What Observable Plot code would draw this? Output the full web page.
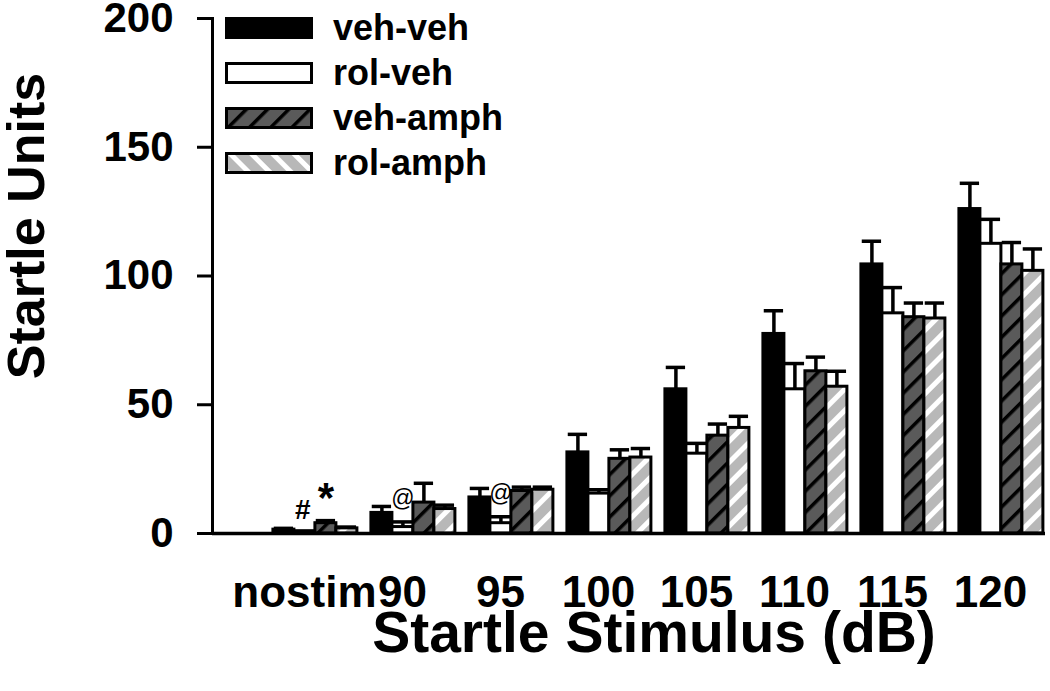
<!DOCTYPE html>
<html>
<head>
<meta charset="utf-8">
<script src="https://cdn.jsdelivr.net/npm/d3@7"></script>
<script src="https://cdn.jsdelivr.net/npm/@observablehq/plot@0.6"></script>
<style>
  html, body { margin: 0; padding: 0; background: #fff; }
  #wrap { position: relative; width: 1050px; height: 691px; font-family: "Liberation Sans", Arial, sans-serif; }
  #legend { position: absolute; left: 225px; top: 5px; }
  .row { display: flex; align-items: center; height: 45px; }
  .row span { font-size: 36px; font-weight: bold; margin-left: 20px; line-height: 1; }
</style>
</head>
<body>
<div id="wrap"><div id="legend"></div></div>
<script>
// ---- data ----
const groups = ["nostim", "90", "95", "100", "105", "110", "115", "120"];
const series = ["veh-veh", "rol-veh", "veh-amph", "rol-amph"];
const vehVeh      = [1.5, 8, 14, 31.5, 56, 77.5, 104.5, 126];
const vehVehErr   = [0.5, 2.5, 3.5, 7, 8.5, 9, 9, 10];
const rolVeh      = [0.5, 2.5, 4, 15.5, 31, 56, 85.5, 112.5];
const rolVehErr   = [0.5, 2, 2.5, 1.5, 4, 10, 10, 9.5];
const vehAmph     = [4, 12, 16.5, 29, 38, 63, 84, 104.5];
const vehAmphErr  = [1, 7.5, 1.5, 3.5, 4.5, 5.5, 5.5, 8.5];
const rolAmph     = [2, 9.5, 17, 29.5, 41, 57, 83.5, 102];
const rolAmphErr  = [0.5, 1.5, 1, 3.5, 4.5, 6, 6, 8.5];
const yTicks = [0, 50, 100, 150, 200];
const annotations = [
  {group: "nostim", series: "rol-veh", symbol: "#"},
  {group: "nostim", series: "veh-amph", symbol: "*"},
  {group: "90", series: "rol-veh", symbol: "@"},
  {group: "95", series: "rol-veh", symbol: "@"}
];

// ---- styling / layout ----
const means = [vehVeh, rolVeh, vehAmph, rolAmph];
const errs = [vehVehErr, rolVehErr, vehAmphErr, rolAmphErr];
const fills = ["#000", "#fff", "url(#hatchDark)", "url(#hatchLight)"];
const groupWidth = 0.857;          // fraction of a category step taken by the 4 bars
const barW = groupWidth / series.length;
const capHalf = barW * 0.46;

const rows = [];
series.forEach((s, k) => groups.forEach((g, i) => {
  const x1 = i - groupWidth / 2 + k * barW;
  rows.push({group: g, series: s, k, x1, x2: x1 + barW, xc: x1 + barW / 2,
             mean: means[k][i], err: errs[k][i], top: means[k][i] + errs[k][i]});
}));
const annRows = annotations.map(a => {
  const r = rows.find(d => d.group === a.group && d.series === a.series);
  return {...a, xc: r.xc, top: r.top};
});

function patternDefs(prefix, dir) {
  const ns = "http://www.w3.org/2000/svg";
  const defs = document.createElementNS(ns, "defs");
  const mk = (id, bg, fg, stripe, angle) => {
    const p = document.createElementNS(ns, "pattern");
    p.setAttribute("id", prefix + id);
    p.setAttribute("patternUnits", "userSpaceOnUse");
    p.setAttribute("width", 15); p.setAttribute("height", 15);
    p.setAttribute("patternTransform", `rotate(${angle})`);
    const r1 = document.createElementNS(ns, "rect");
    r1.setAttribute("width", 15); r1.setAttribute("height", 15); r1.setAttribute("fill", bg);
    const r2 = document.createElementNS(ns, "rect");
    r2.setAttribute("width", stripe); r2.setAttribute("height", 15); r2.setAttribute("fill", fg);
    p.append(r1, r2); defs.append(p);
  };
  mk("hatchDark", "#5a5a5a", "#000", 3.5, 45);
  mk("hatchLight", "#b8b8b8", "#fff", 5, 45 * dir);
  return defs;
}

const chart = Plot.plot({
  width: 1050, height: 691,
  marginLeft: 212, marginRight: 5, marginTop: 18, marginBottom: 158,
  style: {fontFamily: "'Liberation Sans', Arial, sans-serif", background: "#fff", color: "#000", overflow: "visible"},
  x: {type: "linear", domain: [-1.05, 7.45]},
  y: {domain: [0, 200]},
  marks: [
    () => { const g = document.createElementNS("http://www.w3.org/2000/svg", "g"); g.append(patternDefs("", 1)); return g; },
    ...series.map((s, k) => Plot.rectY(rows.filter(d => d.k === k), {
      x1: "x1", x2: "x2", y1: 0, y2: "mean", fill: fills[k], stroke: "#000", strokeWidth: 3
    })),
    Plot.ruleX(rows, {x: "xc", y1: "mean", y2: "top", stroke: "#000", strokeWidth: 3.5}),
    Plot.ruleY(rows, {y: "top", x1: d => d.xc - capHalf, x2: d => d.xc + capHalf, stroke: "#000", strokeWidth: 3.5}),
    Plot.ruleY([0], {stroke: "#000", strokeWidth: 3.5}),
    Plot.frame({anchor: "left", stroke: "#000", strokeWidth: 3}),
    Plot.axisY({ticks: yTicks, tickSize: 15, tickPadding: 24, fontSize: 42, fontWeight: "bold", strokeWidth: 3, label: null}),
    Plot.axisX({ticks: d3.range(groups.length), tickFormat: i => groups[i], tickSize: 0, tickPadding: 42,
                fontSize: 44, fontWeight: "bold", label: null, dx: -11}),
    Plot.text(annRows.filter(d => d.symbol === "#"), {x: "xc", y: "top", text: "symbol", lineAnchor: "bottom", dy: -12, dx: -2,
                fontSize: 28, fontWeight: "bold"}),
    Plot.text(annRows.filter(d => d.symbol === "*"), {x: "xc", y: "top", text: "symbol", lineAnchor: "bottom", dy: -9,
                fontSize: 42, fontWeight: "bold"}),
    Plot.text(annRows.filter(d => d.symbol === "@"), {x: "xc", y: "top", text: "symbol", lineAnchor: "bottom", dy: -16,
                fontSize: 23}),
    Plot.text(["Startle Units"], {frameAnchor: "left", textAnchor: "middle", lineAnchor: "middle", rotate: -90,
                dx: -185, dy: -50, fontSize: 52, fontWeight: "bold"}),
    Plot.text(["Startle Stimulus (dB)"], {frameAnchor: "bottom", textAnchor: "middle", lineAnchor: "middle",
                dx: 25, dy: 100, fontSize: 57, fontWeight: "bold"})
  ]
});
const wrap = document.getElementById("wrap");
wrap.insertBefore(chart, wrap.firstChild);

// legend
const ns = "http://www.w3.org/2000/svg";
const legend = document.getElementById("legend");
series.forEach((s, k) => {
  const row = document.createElement("div"); row.className = "row";
  const sw = document.createElementNS(ns, "svg");
  sw.setAttribute("width", 88); sw.setAttribute("height", 22);
  sw.append(patternDefs("lg", -1));
  const r = document.createElementNS(ns, "rect");
  r.setAttribute("x", 1.5); r.setAttribute("y", 1.5); r.setAttribute("width", 85); r.setAttribute("height", 19);
  r.setAttribute("fill", fills[k].replace("#hatch", "#lghatch"));
  r.setAttribute("stroke", "#000"); r.setAttribute("stroke-width", 3);
  sw.append(r);
  const t = document.createElement("span"); t.textContent = s;
  row.append(sw, t); legend.append(row);
});
</script>
</body>
</html>
